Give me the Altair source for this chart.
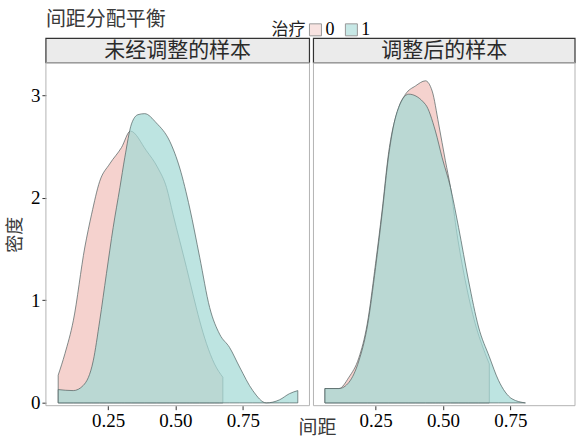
import altair as alt
import pandas as pd

FONT = "Liberation Serif, Noto Sans CJK SC"

# ---- data ----
title_text = "间距分配平衡"
legend_title = "治疗"
groups = ["0", "1"]
panel_labels = ["未经调整的样本", "调整后的样本"]
x_title = "间距"
y_title = "密度"
x_ticks = [0.25, 0.50, 0.75]
y_ticks = [0, 1, 2, 3]

# 未经调整的样本, 治疗 = 0
unadj_x_0 = [0.065, 0.090, 0.121, 0.164, 0.189, 0.219, 0.256, 0.300, 0.333, 0.392, 0.435,
             0.467, 0.491, 0.516, 0.541, 0.565, 0.590, 0.615, 0.645, 0.676]
unadj_y_0 = [0.27, 0.48, 0.80, 1.52, 1.84, 2.16, 2.33, 2.49, 2.65, 2.46, 2.29,
             2.10, 1.84, 1.58, 1.32, 1.06, 0.80, 0.58, 0.38, 0.25]
# 未经调整的样本, 治疗 = 1
unadj_x_1 = [0.065, 0.121, 0.158, 0.195, 0.219, 0.244, 0.269, 0.294, 0.312, 0.337, 0.361,
             0.386, 0.429, 0.479, 0.516, 0.553, 0.590, 0.627, 0.664, 0.701, 0.738, 0.787,
             0.837, 0.886, 0.923, 0.954]
unadj_y_1 = [0.13, 0.12, 0.17, 0.41, 0.80, 1.26, 1.71, 2.10, 2.39, 2.72, 2.81,
             2.82, 2.73, 2.55, 2.29, 1.90, 1.42, 0.93, 0.67, 0.54, 0.35, 0.12,
             0.00, 0.03, 0.09, 0.12]
# 调整后的样本, 治疗 = 0
adj_x_0 = [0.062, 0.114, 0.151, 0.188, 0.219, 0.250, 0.274, 0.299, 0.336, 0.361, 0.398,
           0.435, 0.460, 0.484, 0.509, 0.528, 0.552, 0.583, 0.620, 0.657, 0.672]
adj_y_0 = [0.14, 0.14, 0.25, 0.44, 0.77, 1.36, 1.87, 2.45, 2.88, 3.01, 3.09,
           3.14, 3.04, 2.72, 2.36, 2.10, 1.65, 1.19, 0.77, 0.48, 0.38]
# 调整后的样本, 治疗 = 1
adj_x_1 = [0.062, 0.114, 0.151, 0.188, 0.219, 0.250, 0.274, 0.299, 0.330, 0.373, 0.435,
           0.472, 0.497, 0.528, 0.558, 0.595, 0.632, 0.672, 0.706, 0.756, 0.806]
adj_y_1 = [0.14, 0.14, 0.20, 0.41, 0.74, 1.32, 1.84, 2.42, 2.84, 3.01, 2.91,
           2.65, 2.39, 2.10, 1.71, 1.19, 0.74, 0.45, 0.22, 0.04, 0.00]

PINK = "#f5d2ce"
TEAL = "#a3d9d6"

W_L, W_R, H = 264, 262, 368
STRIP_H = 24.5
X_DOM_L = [0.0195, 0.0195 + W_L / 270]
X_DOM_R = [0.0195, 0.0195 + W_R / 270]
Y_DOM = [-0.027, 3.316]


def frame(xs, ys, g):
    return pd.DataFrame({"间距": xs, "密度": ys, "治疗": [g] * len(xs)})


color_scale = alt.Scale(domain=groups, range=[PINK, TEAL])


def panel(xs0, ys0, xs1, ys1, label, width, xdom, left):
    yscale = alt.Scale(domain=Y_DOM, range=[H, STRIP_H], nice=False, zero=False)
    xscale = alt.Scale(domain=xdom, nice=False, zero=False)
    if left:
        yaxis = alt.Axis(values=y_ticks, format="d", title=y_title, grid=False, domain=False,
                         tickColor="#333", tickSize=4, labelPadding=2,
                         labelFont=FONT, labelFontSize=19, labelColor="#000",
                         titleFont=FONT, titleFontSize=18, titleFontWeight="normal",
                         titleColor="#3a3a3a", titlePadding=6)
    else:
        yaxis = None
    xaxis = alt.Axis(values=x_ticks, format=".2f", title=None, grid=False, domain=False,
                     tickColor="#333", tickSize=4, labelPadding=2,
                     labelFont=FONT, labelFontSize=19, labelColor="#000")

    def area(df, opacity):
        return alt.Chart(df).mark_area(
            interpolate="monotone", fillOpacity=opacity,
            stroke="#4f5f5e", strokeWidth=1, strokeOpacity=0.7
        ).encode(
            x=alt.X("间距:Q", scale=xscale, axis=xaxis),
            y=alt.Y("密度:Q", scale=yscale, axis=yaxis, stack=None),
            color=alt.Color("治疗:N", scale=color_scale,
                            legend=alt.Legend(title=legend_title)),
        )

    a0 = area(frame(xs0, ys0, groups[0]), 1.0)
    a1 = area(frame(xs1, ys1, groups[1]), 0.72)

    lab = pd.DataFrame({"label": [label]})
    strip = alt.Chart(lab).mark_rect(fill="#ebebeb", stroke="#333", strokeWidth=1.2).encode(
        x=alt.value(0), x2=alt.value(width), y=alt.value(0), y2=alt.value(STRIP_H))
    strip_text = alt.Chart(lab).mark_text(font=FONT, fontSize=21, color="#2a2a2a").encode(
        text="label:N", x=alt.value(width / 2), y=alt.value(STRIP_H / 2 + 0.5))
    border = alt.Chart(lab).mark_rect(fill="transparent", stroke="#b3b3b3", strokeWidth=1).encode(
        x=alt.value(0), x2=alt.value(width), y=alt.value(STRIP_H), y2=alt.value(H))

    layers = [strip, strip_text, a0, a1, border]
    if left:
        t = pd.DataFrame({"t": [title_text]})
        title_mark = alt.Chart(t).mark_text(font=FONT, fontSize=20, color="#3a3a3a",
                                            align="left", baseline="middle").encode(
            text="t:N", x=alt.value(0), y=alt.value(-18))
        xt = pd.DataFrame({"t": [x_title]})
        xtitle_mark = alt.Chart(xt).mark_text(font=FONT, fontSize=19, color="#3a3a3a",
                                              align="center", baseline="middle").encode(
            text="t:N", x=alt.value(272), y=alt.value(390))
        layers += [title_mark, xtitle_mark]
    return alt.layer(*layers).properties(width=width, height=H)


left = panel(unadj_x_0, unadj_y_0, unadj_x_1, unadj_y_1, panel_labels[0], W_L, X_DOM_L, True)
right = panel(adj_x_0, adj_y_0, adj_x_1, adj_y_1, panel_labels[1], W_R, X_DOM_R, False)

chart = alt.hconcat(left, right, spacing=4, bounds="flush").resolve_scale(
    x="independent", y="independent", color="shared"
).properties(
    padding={"left": 6, "top": 10, "right": 0, "bottom": 0}
).configure_view(stroke=None).configure_legend(
    orient="none", legendX=226, legendY=-17.5, direction="horizontal", titleOrient="left",
    symbolType="square", symbolSize=144, symbolStrokeColor="#555", symbolStrokeWidth=1,
    symbolOpacity=0.6, labelFont=FONT, labelFontSize=18, labelColor="#000",
    titleFont=FONT, titleFontSize=17, titleFontWeight="normal", titleColor="#222",
    titlePadding=1, labelOffset=1, columnPadding=8
)

chart.save("out.html", embed_options={"renderer": "svg", "actions": False})
